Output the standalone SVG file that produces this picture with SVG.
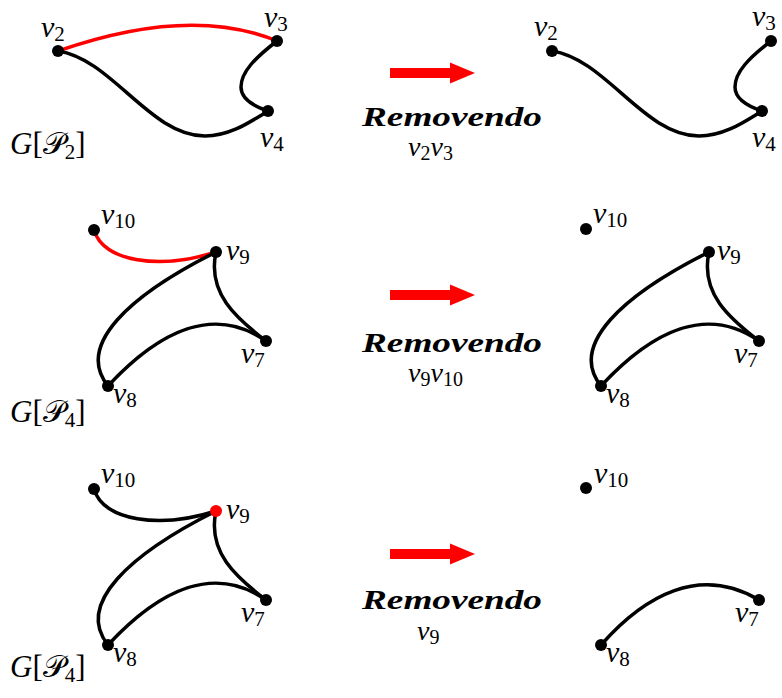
<svg xmlns="http://www.w3.org/2000/svg" xmlns:xlink="http://www.w3.org/1999/xlink" width="782" height="698" viewBox="0 0 782 698">
<style>
.e{fill:none;stroke:#000;stroke-width:3.5;stroke-linecap:round}
.r{stroke:#f00}
.n{fill:#000}
.nr{fill:#f00}
.l{font-family:"Liberation Serif",serif;font-style:italic;font-size:30px;fill:#000}
.s{font-style:normal;font-size:21px}
.g{font-family:"Liberation Serif",serif;font-size:31px;fill:#000}
.gi{font-style:italic}
.p{font-family:"DejaVu Serif","DejaVu Sans","Noto Sans",serif;font-style:normal}
.gs{font-size:21px}
.t{font-family:"Liberation Serif",serif;font-style:italic;font-weight:bold;font-size:28px;fill:#000}
.ls{font-family:"Liberation Serif",serif;font-style:italic;font-size:28px;fill:#000}
.ss{font-style:normal;font-size:20px}
</style>
<defs>
<g id="arrow"><rect x="0" y="-5" width="61" height="10" fill="#f00"/><polygon points="60,-10.5 85,0 60,10.5" fill="#f00"/></g>
</defs>
<rect width="782" height="698" fill="#fff"/>
<g id="connectors">
<!-- top left -->
<path class="e r" d="M58,51 Q190,5 277,41"/>
<path class="e" d="M58,51 C112,59 150,136 205,136 C230,136 250,122 268,111"/>
<path class="e" d="M277,41 C255,58 241,72 241,87 C241,100 256,107 268,111"/>
<!-- top right -->
<path class="e" d="M552,51 C606,59 644,136 699,136 C724,136 744,122 762,111"/>
<path class="e" d="M771,41 C749,58 735,72 735,87 C735,100 750,107 762,111"/>
<!-- middle left -->
<path class="e r" d="M94,230 C103,262 160,270 216,252"/>
<path class="e" d="M216,252 C130,295 75,345 108,386"/>
<path class="e" d="M108,386 C160,330 215,305 266,341"/>
<path class="e" d="M216,252 C207,293 236,318 266,341"/>
<!-- middle right -->
<path class="e" d="M709,252 C623,295 568,345 601,386"/>
<path class="e" d="M601,386 C653,330 708,305 759,341"/>
<path class="e" d="M709,252 C700,293 729,318 759,341"/>
<!-- bottom left -->
<path class="e" d="M94,489 C103,521 160,529 216,511"/>
<path class="e" d="M216,511 C130,554 75,604 108,645"/>
<path class="e" d="M108,645 C160,589 215,564 266,600"/>
<path class="e" d="M216,511 C207,552 236,577 266,600"/>
<!-- bottom right -->
<path class="e" d="M601,645 C645,595 700,565 759,600"/>
</g>
<!-- top left nodes -->
<g id="tl-v2"><circle class="n" cx="58" cy="51" r="6"/><text class="l" x="41" y="37">v<tspan class="s" dy="4">2</tspan></text></g>
<g id="tl-v3"><circle class="n" cx="277" cy="41" r="6"/><text class="l" x="264" y="27">v<tspan class="s" dy="4">3</tspan></text></g>
<g id="tl-v4"><circle class="n" cx="268" cy="111" r="6"/><text class="l" x="260" y="147">v<tspan class="s" dy="4">4</tspan></text></g>
<g id="tl-label"><text class="g" x="10" y="154"><tspan class="gi">G</tspan>[<tspan class="p">𝒫</tspan><tspan class="gs" dy="5">2</tspan><tspan dy="-5">]</tspan></text></g>
<!-- top right nodes -->
<g id="tr-v2"><circle class="n" cx="552" cy="51" r="6"/><text class="l" x="534" y="36">v<tspan class="s" dy="4">2</tspan></text></g>
<g id="tr-v3"><circle class="n" cx="771" cy="41" r="6"/><text class="l" x="752" y="26">v<tspan class="s" dy="4">3</tspan></text></g>
<g id="tr-v4"><circle class="n" cx="762" cy="111" r="6"/><text class="l" x="752" y="147">v<tspan class="s" dy="4">4</tspan></text></g>
<!-- middle left nodes -->
<g id="ml-v10"><circle class="n" cx="94" cy="230" r="6"/><text class="l" x="101" y="224">v<tspan class="s" dy="4">10</tspan></text></g>
<g id="ml-v9"><circle class="n" cx="216" cy="252" r="6"/><text class="l" x="226" y="260">v<tspan class="s" dy="4">9</tspan></text></g>
<g id="ml-v7"><circle class="n" cx="266" cy="341" r="6"/><text class="l" x="241" y="363">v<tspan class="s" dy="4">7</tspan></text></g>
<g id="ml-v8"><circle class="n" cx="108" cy="386" r="6"/><text class="l" x="113" y="403">v<tspan class="s" dy="4">8</tspan></text></g>
<g id="ml-label"><text class="g" x="10" y="422"><tspan class="gi">G</tspan>[<tspan class="p">𝒫</tspan><tspan class="gs" dy="5">4</tspan><tspan dy="-5">]</tspan></text></g>
<!-- middle right nodes -->
<g id="mr-v10"><circle class="n" cx="586" cy="229" r="6"/><text class="l" x="593" y="223">v<tspan class="s" dy="4">10</tspan></text></g>
<g id="mr-v9"><circle class="n" cx="709" cy="252" r="6"/><text class="l" x="717" y="260">v<tspan class="s" dy="4">9</tspan></text></g>
<g id="mr-v7"><circle class="n" cx="759" cy="341" r="6"/><text class="l" x="734" y="363">v<tspan class="s" dy="4">7</tspan></text></g>
<g id="mr-v8"><circle class="n" cx="601" cy="386" r="6"/><text class="l" x="606" y="403">v<tspan class="s" dy="4">8</tspan></text></g>
<!-- bottom left nodes -->
<g id="bl-v10"><circle class="n" cx="94" cy="489" r="6"/><text class="l" x="101" y="483">v<tspan class="s" dy="4">10</tspan></text></g>
<g id="bl-v9"><circle class="nr" cx="216" cy="511" r="6"/><text class="l" x="226" y="519">v<tspan class="s" dy="4">9</tspan></text></g>
<g id="bl-v7"><circle class="n" cx="266" cy="600" r="6"/><text class="l" x="241" y="622">v<tspan class="s" dy="4">7</tspan></text></g>
<g id="bl-v8"><circle class="n" cx="108" cy="645" r="6"/><text class="l" x="113" y="662">v<tspan class="s" dy="4">8</tspan></text></g>
<g id="bl-label"><text class="g" x="10" y="677"><tspan class="gi">G</tspan>[<tspan class="p">𝒫</tspan><tspan class="gs" dy="5">4</tspan><tspan dy="-5">]</tspan></text></g>
<!-- bottom right nodes -->
<g id="br-v10"><circle class="n" cx="586" cy="488" r="6"/><text class="l" x="594" y="483">v<tspan class="s" dy="4">10</tspan></text></g>
<g id="br-v7"><circle class="n" cx="759" cy="600" r="6"/><text class="l" x="735" y="622">v<tspan class="s" dy="4">7</tspan></text></g>
<g id="br-v8"><circle class="n" cx="601" cy="645" r="6"/><text class="l" x="606" y="662">v<tspan class="s" dy="4">8</tspan></text></g>
<!-- operations -->
<g id="op1"><use xlink:href="#arrow" x="390" y="73"/><text class="t" x="362" y="126" textLength="180" lengthAdjust="spacingAndGlyphs">Removendo</text><text class="ls" x="408" y="156">v<tspan class="ss" dy="4">2</tspan><tspan dy="-4">v</tspan><tspan class="ss" dy="4">3</tspan></text></g>
<g id="op2"><use xlink:href="#arrow" x="390" y="295"/><text class="t" x="362" y="352" textLength="180" lengthAdjust="spacingAndGlyphs">Removendo</text><text class="ls" x="408" y="382">v<tspan class="ss" dy="4">9</tspan><tspan dy="-4">v</tspan><tspan class="ss" dy="4">10</tspan></text></g>
<g id="op3"><use xlink:href="#arrow" x="390" y="554"/><text class="t" x="362" y="609" textLength="180" lengthAdjust="spacingAndGlyphs">Removendo</text><text class="ls" x="417" y="640">v<tspan class="ss" dy="4">9</tspan></text></g>
</svg>
